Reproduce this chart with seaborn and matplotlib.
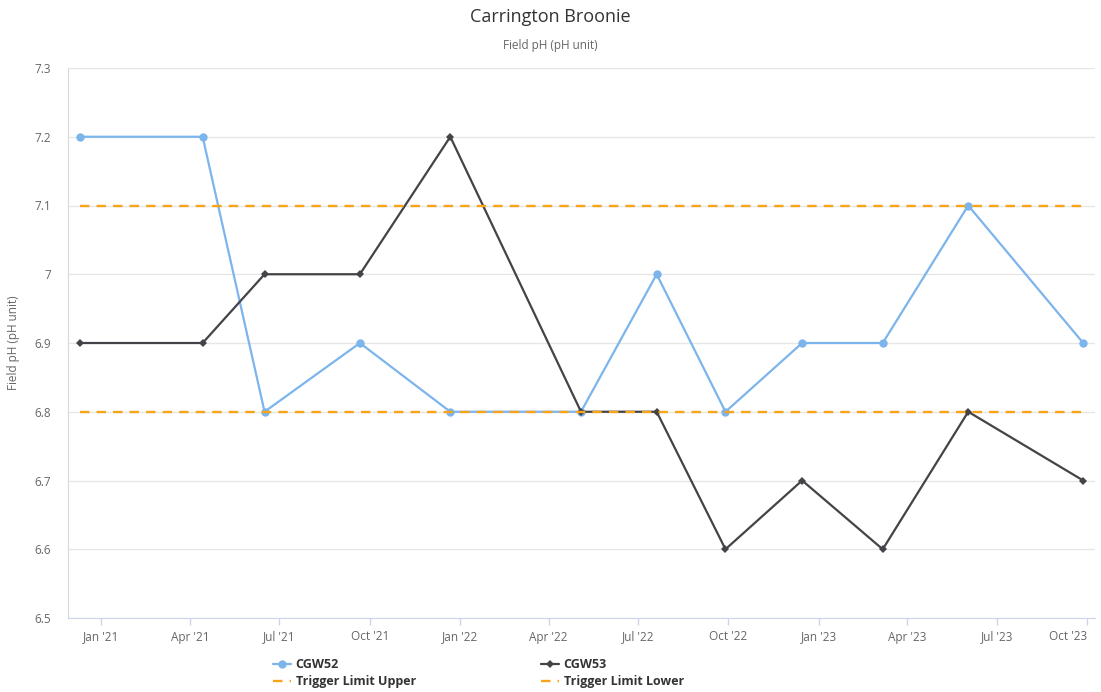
import pandas as pd
import matplotlib
matplotlib.use("Agg")
import matplotlib.pyplot as plt
import matplotlib.dates as mdates
from matplotlib.ticker import FuncFormatter
import seaborn as sns

# Sample dates and field pH readings
dates = ["2020-12-10", "2021-04-14", "2021-06-16", "2021-09-21", "2021-12-22", "2022-05-04",
         "2022-07-20", "2022-09-28", "2022-12-15", "2023-03-07", "2023-06-02", "2023-09-27"]
cgw52 = [7.2, 7.2, 6.8, 6.9, 6.8, 6.8, 7.0, 6.8, 6.9, 6.9, 7.1, 6.9]
cgw53 = [6.9, 6.9, 7.0, 7.0, 7.2, 6.8, 6.8, 6.6, 6.7, 6.6, 6.8, 6.7]
trigger_upper = [7.1, 7.1, 7.1, 7.1, 7.1, 7.1, 7.1, 7.1, 7.1, 7.1, 7.1, 7.1]
trigger_lower = [6.8, 6.8, 6.8, 6.8, 6.8, 6.8, 6.8, 6.8, 6.8, 6.8, 6.8, 6.8]
y_ticks = [6.5, 6.6, 6.7, 6.8, 6.9, 7.0, 7.1, 7.2, 7.3]

df = pd.DataFrame({
    "date": pd.to_datetime(dates),
    "CGW52": cgw52,
    "CGW53": cgw53,
    "Trigger Limit Upper": trigger_upper,
    "Trigger Limit Lower": trigger_lower,
})

sns.set_style("white")
plt.rcParams["font.family"] = ["Open Sans", "DejaVu Sans"]

blue = "#7cb5ec"
dark = "#434348"
orange = "#f7a418"
grey_text = "#666666"

fig = plt.figure(figsize=(11.01, 6.92), dpi=100)
ax = fig.add_axes([68 / 1101, 1 - 618 / 692, (1095 - 68) / 1101, (618 - 68) / 692])

sns.lineplot(data=df, x="date", y="CGW52", ax=ax, color=blue, lw=1.6,
             marker="o", markersize=6, markeredgewidth=0, label="CGW52", zorder=3)
sns.lineplot(data=df, x="date", y="CGW53", ax=ax, color=dark, lw=1.6,
             marker="D", markersize=4, markeredgewidth=0, label="CGW53", zorder=3)
sns.lineplot(data=df, x="date", y="Trigger Limit Upper", ax=ax, color=orange, lw=1.7,
             dashes=(4, 3), label="Trigger Limit Upper", zorder=4)
sns.lineplot(data=df, x="date", y="Trigger Limit Lower", ax=ax, color=orange, lw=1.7,
             dashes=(4, 3), label="Trigger Limit Lower", zorder=4)

ax.set_xlim(pd.Timestamp("2020-11-28"), pd.Timestamp("2023-10-09"))
ax.set_ylim(6.5, 7.3)
ax.set_yticks(y_ticks)
ax.yaxis.set_major_formatter(FuncFormatter(lambda v, p: f"{v:g}"))
ax.xaxis.set_major_locator(mdates.MonthLocator(bymonth=[1, 4, 7, 10]))
ax.xaxis.set_major_formatter(mdates.DateFormatter("%b '%y"))

ax.grid(axis="y", color="#e6e6e6", lw=1)
ax.grid(axis="x", visible=False)
for side in ["top", "right"]:
    ax.spines[side].set_visible(False)
ax.spines["left"].set_color("#d8d8d8")
ax.spines["bottom"].set_color("#ccd6eb")
ax.tick_params(axis="x", colors="#ccd6eb", length=5, width=1, labelcolor=grey_text,
               labelsize=8.5, pad=4, direction="out", bottom=True)
ax.tick_params(axis="y", length=0, labelcolor=grey_text, labelsize=8.5, pad=12)

ax.set_xlabel("")
ax.set_ylabel("Field pH (pH unit)", color=grey_text, fontsize=8.5)
ax.yaxis.set_label_coords(-48 / 1027, 0.5)

fig.text(0.5, 1 - 17 / 692, "Carrington Broonie", ha="center", va="center",
         fontsize=13, color="#333333")
fig.text(0.5, 1 - 45 / 692, "Field pH (pH unit)", ha="center", va="center",
         fontsize=8.5, color=grey_text)

handles, labels = ax.get_legend_handles_labels()
ax.get_legend().remove()
order = [0, 2, 1, 3]
leg = fig.legend([handles[i] for i in order], [labels[i] for i in order],
                 loc="upper left", bbox_to_anchor=(262 / 1101, 1 - 647 / 692),
                 ncol=2, frameon=False, handlelength=1.4, handletextpad=0.4,
                 columnspacing=10.0, labelspacing=0.3,
                 prop={"weight": "bold", "size": 9})
for t in leg.get_texts():
    t.set_color("#333333")

# keep the last date label inside the figure
fig.canvas.draw()
for tick in ax.xaxis.get_major_ticks():
    if tick.label1.get_text() == "Oct '23":
        tick.label1.set_horizontalalignment("right")
        tick.label1.set_x(pd.Timestamp("2023-10-09"))

fig.savefig("out.png", dpi=100)
